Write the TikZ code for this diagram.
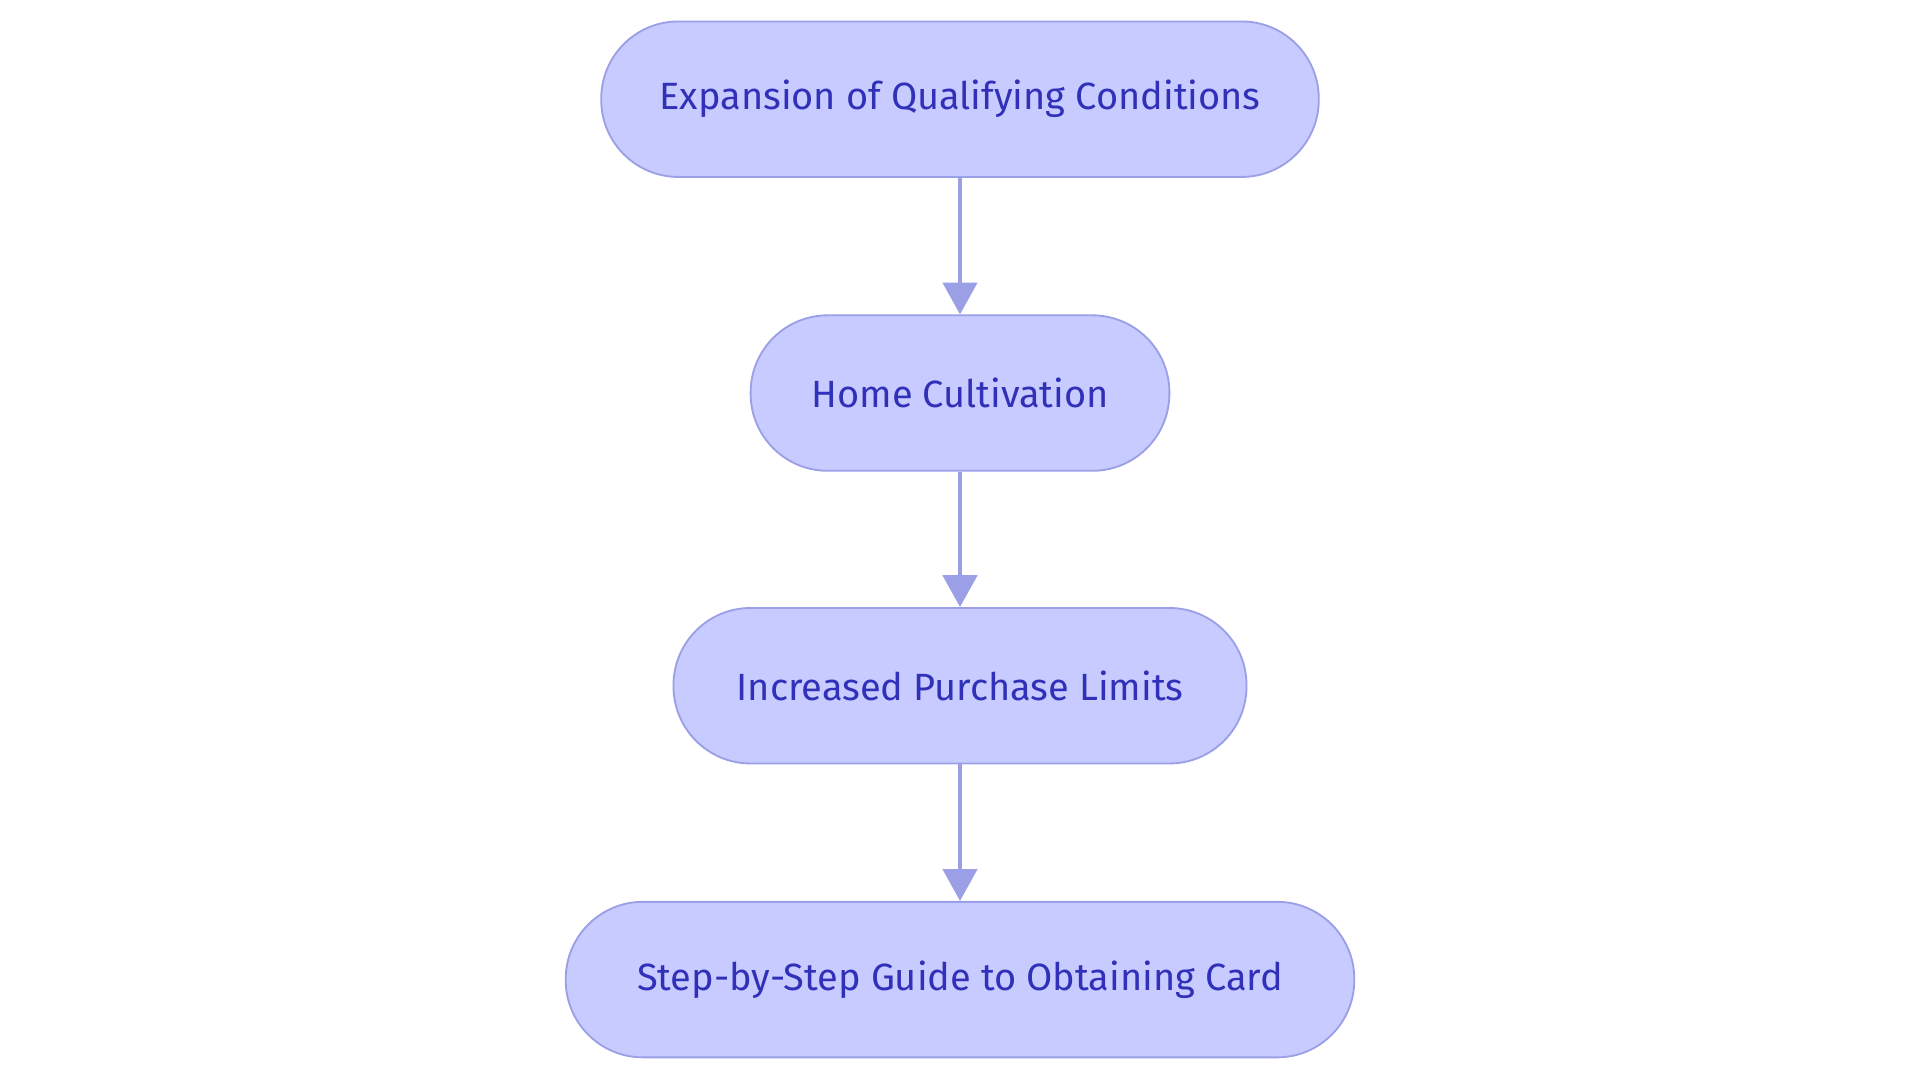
\documentclass[tikz,border=0pt]{standalone}
\usepackage{fontspec}
\setmainfont{Fira Sans}
\usetikzlibrary{arrows.meta}
\definecolor{nfill}{HTML}{C8CBFF}
\definecolor{nline}{HTML}{9A9FE6}
\definecolor{ntext}{HTML}{3030B8}
\begin{document}
\begin{tikzpicture}[x=1pt,y=-1pt,
  box/.style={rounded corners=63pt,draw=nline,line width=1.5pt,fill=nfill,text=ntext,
    font=\fontsize{31}{36}\selectfont,minimum height=127pt,inner sep=0pt,anchor=center},
  arr/.style={draw=nline,line width=3pt,-{Triangle[length=26pt,width=28pt]}}]
\useasboundingbox (0,0) rectangle (1568,884);
\node[box,minimum width=586pt] (a) at (784,81) {Expansion of Qualifying Conditions};
\node[box,minimum width=342pt] (b) at (784,321) {Home Cultivation};
\node[box,minimum width=468pt] (c) at (784,560) {Increased Purchase Limits};
\node[box,minimum width=644pt] (d) at (784,800) {Step-by-Step Guide to Obtaining Card};
\draw[arr] (a) -- (b);
\draw[arr] (b) -- (c);
\draw[arr] (c) -- (d);
\end{tikzpicture}
\end{document}
